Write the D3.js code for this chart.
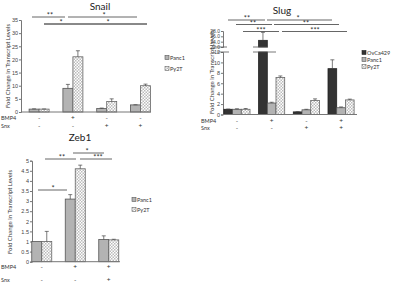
<!DOCTYPE html>
<html>
<head>
<meta charset="utf-8">
<script src="https://cdn.jsdelivr.net/npm/d3@7"></script>
<style>
  body { margin: 0; background: #fff; }
  svg { display: block; font-family: 'Lato', 'Open Sans', sans-serif; }
</style>
</head>
<body>
<svg id="chart" width="394" height="292"></svg>
<script>
// ── Data ─────────────────────────────────────────────
const snailGroups = ['g1', 'g2', 'g3', 'g4'];
const snailBmp4 = ['-', '+', '-', '-'];
const snailSnx = ['-', '-', '+', '+'];
const snailPanc1 = [1.1, 9.0, 1.3, 2.7];
const snailPanc1Err = [0.1, 1.5, 0.2, 0.05];
const snailPy2T = [1.1, 21.0, 4.0, 10.0];
const snailPy2TErr = [0.05, 2.3, 1.0, 0.6];
const snailTicks = [0, 5, 10, 15, 20, 25, 30, 35];

const slugGroups = ['g1', 'g2', 'g3', 'g4'];
const slugBmp4 = ['-', '+', '-', '+'];
const slugSnx = ['-', '-', '+', '+'];
const slugOvCa = [1.0, 24.5, 0.5, 8.8];
const slugOvCaErr = [0.05, 3.0, 0.05, 1.7];
const slugPanc1 = [1.0, 2.2, 0.9, 1.3];
const slugPanc1Err = [0.1, 0.15, 0.1, 0.15];
const slugPy2T = [1.0, 7.1, 2.7, 2.8];
const slugPy2TErr = [0.15, 0.3, 0.3, 0.15];
const slugTicksLow = [0, 2, 4, 6, 8, 10, 12];
const slugTicksHigh = [22, 24, 26, 28];

const zebGroups = ['g1', 'g2', 'g3'];
const zebBmp4 = ['-', '+', '+'];
const zebSnx = ['-', '-', '+'];
const zebPanc1 = [1.0, 3.1, 1.1];
const zebPanc1Err = [0.0, 0.22, 0.18];
const zebPy2T = [1.0, 4.6, 1.08];
const zebPy2TErr = [0.5, 0.18, 0.03];
const zebTicks = [0, 0.5, 1, 1.5, 2, 2.5, 3, 3.5, 4, 4.5, 5];

const svg = d3.select('#chart');
const AXIS = '#777';

// checker pattern for Py2T
const defs = svg.append('defs');
const pat = defs.append('pattern')
    .attr('id', 'checker')
    .attr('width', 3).attr('height', 3)
    .attr('patternUnits', 'userSpaceOnUse');
pat.append('rect').attr('width', 3).attr('height', 3).attr('fill', '#fff');
pat.append('rect').attr('width', 1.5).attr('height', 1.5).attr('fill', '#bbb');
pat.append('rect').attr('x', 1.5).attr('y', 1.5).attr('width', 1.5).attr('height', 1.5).attr('fill', '#bbb');

const styles = {
    OvCa429: { fill: '#333', stroke: '#222' },
    Panc1: { fill: '#b3b3b3', stroke: '#555' },
    Py2T: { fill: 'url(#checker)', stroke: '#666' }
};

function drawPanel(cfg) {
    const g = svg.append('g');
    const cap = cfg.cap ?? Infinity;
    const x0 = d3.scaleBand().domain(cfg.groups).range(cfg.xRange);
    const x1 = d3.scaleBand().domain(cfg.series.map(s => s.name))
        .range([0, cfg.barW * cfg.series.length]);
    const off = (x0.bandwidth() - cfg.barW * cfg.series.length) / 2;

    // y axis
    const yAxis = g.append('g').attr('transform', `translate(${cfg.axisX},0)`)
        .call(d3.axisLeft(cfg.y).tickValues(cfg.ticks).tickSize(2).tickFormat(d3.format('')));
    yAxis.select('.domain').attr('stroke', AXIS);
    yAxis.selectAll('.tick line').attr('stroke', AXIS);
    yAxis.selectAll('text').attr('font-size', 5.5).attr('fill', '#444').attr('x', -3);

    // bars
    cfg.series.forEach(s => {
        s.values.forEach((v, i) => {
            const bx = x0(cfg.groups[i]) + off + x1(s.name);
            const top = cfg.y(Math.min(v, cap));
            g.append('rect')
                .attr('x', bx).attr('y', top)
                .attr('width', cfg.barW).attr('height', cfg.y(0) - top)
                .attr('fill', styles[s.name].fill)
                .attr('stroke', styles[s.name].stroke).attr('stroke-width', 0.8);
            const e = s.errors[i];
            if (e > 0 && v <= cap) {
                const cx = bx + cfg.barW / 2;
                const ey = cfg.y(v + e);
                g.append('line').attr('x1', cx).attr('x2', cx)
                    .attr('y1', top).attr('y2', ey)
                    .attr('stroke', '#444').attr('stroke-width', 0.7);
                g.append('line').attr('x1', cx - 2).attr('x2', cx + 2)
                    .attr('y1', ey).attr('y2', ey)
                    .attr('stroke', '#444').attr('stroke-width', 0.7);
            }
        });
    });

    // baseline
    g.append('line').attr('x1', cfg.axisX).attr('x2', cfg.baseEnd)
        .attr('y1', cfg.y(0)).attr('y2', cfg.y(0))
        .attr('stroke', AXIS).attr('stroke-width', 1);

    // title
    g.append('text').attr('x', cfg.titleX).attr('y', cfg.titleY)
        .attr('text-anchor', 'middle').attr('font-size', 10).attr('fill', '#222')
        .text(cfg.title);

    // y label
    g.append('text')
        .attr('transform', `translate(${cfg.yLabelX},${cfg.yLabelY}) rotate(-90)`)
        .attr('text-anchor', 'middle').attr('font-size', 6).attr('fill', '#333')
        .text('Fold Change in Transcript Levels');

    // treatment rows
    [['BMP4', cfg.bmp4, cfg.rowY[0]], ['Snx', cfg.snx, cfg.rowY[1]]].forEach(([lab, signs, ry]) => {
        g.append('text').attr('x', cfg.rowLabelX).attr('y', ry)
            .attr('font-size', 5.5).attr('fill', '#333').text(lab);
        signs.forEach((sg, i) => {
            g.append('text').attr('x', x0(cfg.groups[i]) + x0.bandwidth() / 2).attr('y', ry)
                .attr('text-anchor', 'middle').attr('font-size', 6.5).attr('fill', '#333')
                .text(sg);
        });
    });

    // legend
    cfg.series.forEach((s, i) => {
        const ly = cfg.legendY + i * cfg.legendStep;
        g.append('rect').attr('x', cfg.legendX).attr('y', ly - 2.5)
            .attr('width', 4).attr('height', 4)
            .attr('fill', styles[s.name].fill)
            .attr('stroke', styles[s.name].stroke).attr('stroke-width', 0.6);
        g.append('text').attr('x', cfg.legendX + 5).attr('y', ly + 1.5)
            .attr('font-size', 5.5).attr('fill', '#333').text(s.name);
    });

    // significance bars
    cfg.sig.forEach(([xa, xb, yy, label, lx]) => {
        g.append('line').attr('x1', xa).attr('x2', xb).attr('y1', yy).attr('y2', yy)
            .attr('stroke', '#555').attr('stroke-width', 0.9);
        g.append('text').attr('x', lx).attr('y', yy + 1)
            .attr('text-anchor', 'middle').attr('font-size', 7.5).attr('fill', '#333')
            .text(label);
    });
    return { g, x0 };
}

// ── Snail ─────────────────────────────────────────────
drawPanel({
    title: 'Snail', titleX: 100, titleY: 10,
    groups: snailGroups, bmp4: snailBmp4, snx: snailSnx,
    series: [
        { name: 'Panc1', values: snailPanc1, errors: snailPanc1Err },
        { name: 'Py2T', values: snailPy2T, errors: snailPy2TErr }
    ],
    y: d3.scaleLinear().domain([0, 35]).range([112, 20]),
    ticks: snailTicks,
    xRange: [22.2, 157.4], barW: 10, axisX: 21, baseEnd: 151,
    yLabelX: 10, yLabelY: 66,
    rowY: [120, 128], rowLabelX: 1,
    legendX: 165, legendY: 58, legendStep: 11,
    sig: [
        [32, 65, 17, '**', 50],
        [68, 137, 17, '*', 104],
        [44, 147, 24, '*', 61],
        [44, 147, 24, '*', 108]
    ]
});

// ── Slug (broken axis) ───────────────────────────────
(function () {
    const yLow = d3.scaleLinear().domain([0, 12]).range([114.5, 52]);
    const yHigh = d3.scaleLinear().domain([22, 28]).range([47, 31]);
    const panel = drawPanel({
        title: 'Slug', titleX: 282, titleY: 14,
        groups: slugGroups, bmp4: slugBmp4, snx: slugSnx,
        series: [
            { name: 'OvCa429', values: slugOvCa, errors: slugOvCaErr },
            { name: 'Panc1', values: slugPanc1, errors: slugPanc1Err },
            { name: 'Py2T', values: slugPy2T, errors: slugPy2TErr }
        ],
        y: yLow, ticks: slugTicksLow, cap: 12,
        xRange: [219.6, 358.4], barW: 8.7, axisX: 223, baseEnd: 357,
        yLabelX: 214, yLabelY: 72,
        rowY: [123, 130], rowLabelX: 201,
        legendX: 362, legendY: 53, legendStep: 7,
        sig: [
            [228, 265, 20, '**', 247],
            [267, 332, 20, '*', 298],
            [236, 272, 24.5, '**', 253],
            [274, 339, 24.5, '**', 306],
            [243, 279, 31.5, '***', 261],
            [282, 347, 31.5, '***', 315]
        ]
    });
    const g = panel.g, x0 = panel.x0;
    // upper segment axis
    const up = g.append('g').attr('transform', 'translate(223,0)')
        .call(d3.axisLeft(yHigh).tickValues(slugTicksHigh).tickSize(2));
    up.select('.domain').attr('stroke', AXIS);
    up.selectAll('.tick line').attr('stroke', AXIS);
    up.selectAll('text').attr('font-size', 5).attr('fill', '#444').attr('x', -3);
    // upper part of the broken OvCa429 bar
    const bw = 8.7;
    const off = (x0.bandwidth() - bw * 3) / 2;
    const bx = x0('g2') + off;
    g.append('rect').attr('x', bx).attr('y', yHigh(slugOvCa[1]))
        .attr('width', bw).attr('height', yHigh(22) - yHigh(slugOvCa[1]))
        .attr('fill', styles.OvCa429.fill).attr('stroke', styles.OvCa429.stroke).attr('stroke-width', 0.8);
    // break marks
    [[212, 227, yHigh(22)], [217, 229, yLow(12)], [253, 268, yHigh(22)], [253, 276, yLow(12)]]
        .forEach(([a, b, yy]) => {
            g.append('line').attr('x1', a).attr('x2', b).attr('y1', yy).attr('y2', yy)
                .attr('stroke', '#555').attr('stroke-width', 0.8);
        });
    // error bar of the broken bar
    const cx = bx + bw / 2;
    const ey = yHigh(slugOvCa[1] + slugOvCaErr[1]);
    g.append('line').attr('x1', cx).attr('x2', cx).attr('y1', yHigh(slugOvCa[1])).attr('y2', ey)
        .attr('stroke', '#444').attr('stroke-width', 0.7);
    g.append('line').attr('x1', cx - 2).attr('x2', cx + 2).attr('y1', ey).attr('y2', ey)
        .attr('stroke', '#444').attr('stroke-width', 0.7);
})();

// ── Zeb1 ─────────────────────────────────────────────
drawPanel({
    title: 'Zeb1', titleX: 80, titleY: 141,
    groups: zebGroups, bmp4: zebBmp4, snx: zebSnx,
    series: [
        { name: 'Panc1', values: zebPanc1, errors: zebPanc1Err },
        { name: 'Py2T', values: zebPy2T, errors: zebPy2TErr }
    ],
    y: d3.scaleLinear().domain([0, 5]).range([261.7, 160.7]),
    ticks: zebTicks,
    xRange: [25, 125.5], barW: 10, axisX: 32, baseEnd: 120,
    yLabelX: 12, yLabelY: 212,
    rowY: [269, 282], rowLabelX: 1,
    legendX: 132, legendY: 200, legendStep: 10,
    sig: [
        [38, 67, 190, '*', 53],
        [45, 76, 159, '**', 62],
        [73, 104, 153, '*', 87],
        [80, 112, 159, '***', 98]
    ]
});
</script>
</body>
</html>
